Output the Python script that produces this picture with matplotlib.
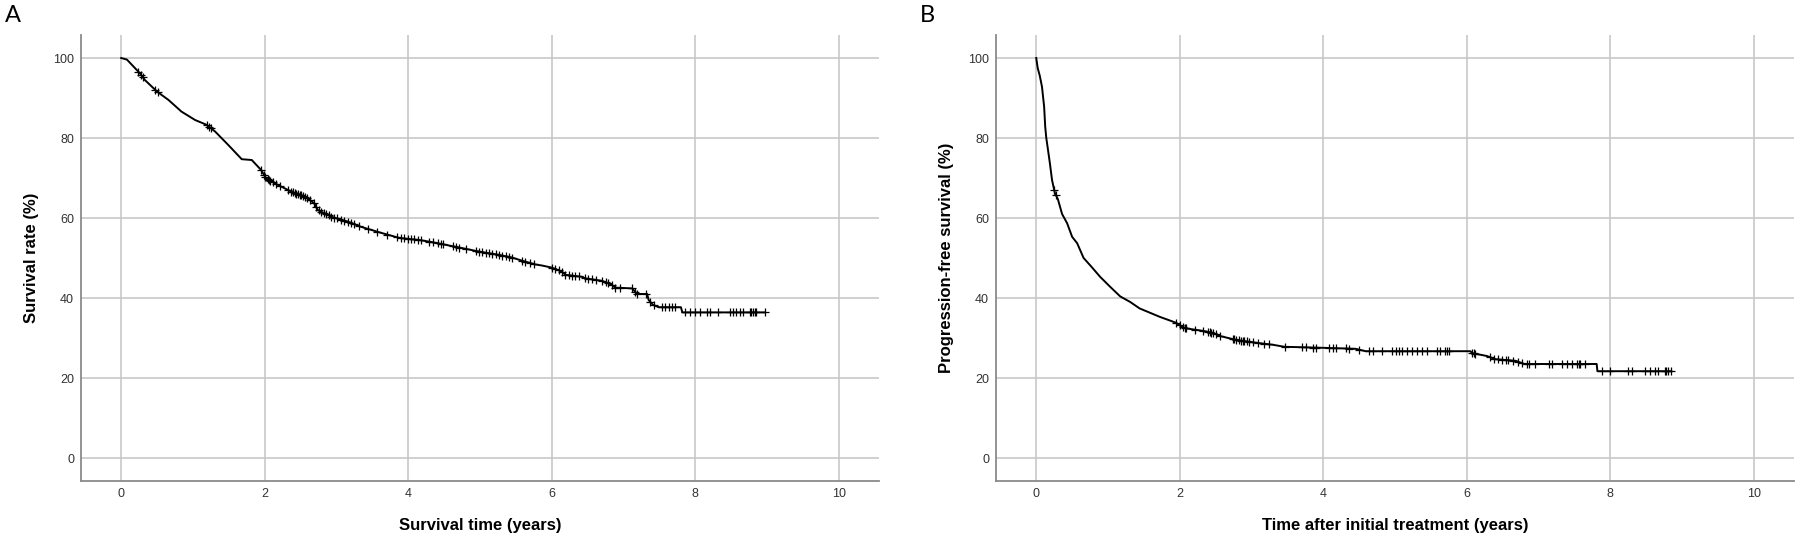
import numpy as np
import matplotlib
matplotlib.use('Agg')
import matplotlib.pyplot as plt

plt.rcParams['font.family'] = ['Liberation Sans', 'DejaVu Sans']

# Panel A: overall survival (Kaplan-Meier)
os_time = [0, 0.08, 0.26, 0.33, 0.50, 0.66, 0.84, 1.03, 1.19, 1.31, 1.49, 1.68,
           1.82, 1.95, 2.02, 2.18, 2.37, 2.56, 2.69, 2.74, 2.93, 3.16, 3.34, 3.62,
           3.88, 4.15, 4.29, 4.52, 4.80, 4.99, 5.26, 5.45, 5.59, 5.77, 5.87, 6.00,
           6.14, 6.19, 6.42, 6.47, 6.70, 6.84, 6.88, 7.12, 7.16, 7.19, 7.33, 7.35,
           7.41, 7.49, 7.80, 7.82, 8.97]
os_surv = [100, 99.6, 96.2, 94.5, 91.6, 89.5, 86.6, 84.5, 83.3, 81.6, 78.3, 74.7,
           74.5, 72.0, 69.9, 68.3, 66.6, 65.3, 63.7, 62.0, 60.3, 59.1, 57.8, 56.3,
           55.0, 54.5, 54.1, 53.3, 52.3, 51.6, 50.8, 50.1, 49.3, 48.4, 48.1, 47.6,
           46.6, 45.8, 45.3, 44.9, 44.3, 43.3, 42.6, 42.4, 41.6, 41.0, 41.0, 39.5,
           38.3, 37.7, 37.7, 36.4, 36.4]
os_censor = [0.24, 0.28, 0.30, 0.47, 0.51, 1.19, 1.22, 1.25, 1.95, 1.99, 2.01, 2.04,
             2.06, 2.08, 2.12, 2.16, 2.21, 2.32, 2.37, 2.39, 2.42, 2.44, 2.46, 2.49,
             2.51, 2.53, 2.56, 2.59, 2.63, 2.69, 2.72, 2.75, 2.79, 2.82, 2.86, 2.89,
             2.93, 2.97, 3.01, 3.06, 3.11, 3.16, 3.20, 3.25, 3.32, 3.44, 3.57, 3.71,
             3.85, 3.90, 3.94, 3.99, 4.04, 4.08, 4.13, 4.18, 4.29, 4.34, 4.41, 4.45,
             4.48, 4.62, 4.66, 4.71, 4.80, 4.94, 4.99, 5.03, 5.08, 5.12, 5.17, 5.22,
             5.26, 5.31, 5.36, 5.40, 5.45, 5.59, 5.63, 5.70, 5.75, 6.00, 6.05, 6.10,
             6.14, 6.19, 6.24, 6.28, 6.33, 6.38, 6.47, 6.51, 6.56, 6.61, 6.70, 6.75,
             6.79, 6.84, 6.88, 6.95, 7.12, 7.16, 7.19, 7.32, 7.37, 7.42, 7.53, 7.58,
             7.63, 7.67, 7.72, 7.86, 7.93, 8.00, 8.06, 8.16, 8.20, 8.32, 8.48, 8.53,
             8.57, 8.62, 8.67, 8.76, 8.78, 8.81, 8.83, 8.85, 8.97]

# Panel B: progression-free survival
pfs_time = [0, 0.02, 0.05, 0.08, 0.11, 0.125, 0.14, 0.16, 0.19, 0.22, 0.26, 0.30, 0.36,
            0.43, 0.50, 0.57, 0.66, 0.77, 0.89, 1.03, 1.17, 1.31, 1.44, 1.72, 1.95,
            2.02, 2.09, 2.32, 2.46, 2.56, 2.79, 3.07, 3.30, 3.46, 3.90, 4.45, 4.59,
            6.05, 6.08, 6.28, 6.40, 6.68, 6.80, 7.81, 7.82, 8.85]
pfs_surv = [100, 97.5, 95.5, 92.8, 87.8, 82.8, 80.0, 77.5, 73.7, 69.5, 66.2, 64.8, 61.0,
            58.7, 55.3, 53.7, 50.0, 47.8, 45.3, 42.8, 40.4, 39.0, 37.4, 35.3, 33.8,
            32.9, 32.4, 31.8, 31.3, 30.5, 29.5, 28.8, 28.3, 27.8, 27.6, 27.3, 26.7,
            26.7, 26.2, 25.5, 24.7, 24.3, 23.5, 23.5, 21.7, 21.7]
pfs_censor = [0.25, 0.27, 1.95, 2.00, 2.04, 2.07, 2.09, 2.21, 2.32, 2.39, 2.42, 2.44,
              2.46, 2.51, 2.56, 2.74, 2.76, 2.79, 2.83, 2.86, 2.88, 2.90, 2.93, 2.97,
              3.02, 3.09, 3.18, 3.25, 3.46, 3.71, 3.76, 3.85, 3.90, 4.08, 4.13, 4.18,
              4.31, 4.36, 4.50, 4.64, 4.69, 4.82, 4.96, 5.01, 5.06, 5.10, 5.17, 5.24,
              5.31, 5.38, 5.45, 5.59, 5.63, 5.70, 5.73, 5.75, 6.07, 6.10, 6.12, 6.33,
              6.38, 6.44, 6.49, 6.54, 6.58, 6.65, 6.72, 6.77, 6.84, 6.86, 6.95, 7.14,
              7.19, 7.32, 7.39, 7.46, 7.53, 7.56, 7.58, 7.65, 7.88, 7.99, 8.25, 8.30,
              8.48, 8.55, 8.62, 8.67, 8.76, 8.78, 8.81, 8.85]

x_ticks = [0, 2, 4, 6, 8, 10]
y_ticks = [0, 20, 40, 60, 80, 100]

fig = plt.figure(figsize=(17.96, 5.36), dpi=100)

panels = [
    (0.0451, os_time, os_surv, os_censor, 'Survival time (years)', 'Survival rate (%)', 'A'),
    (0.5546, pfs_time, pfs_surv, pfs_censor, 'Time after initial treatment (years)',
     'Progression-free survival (%)', 'B'),
]

for left, t, s, cens, xlab, ylab, letter in panels:
    ax = fig.add_axes([left, 0.1026, 0.4443, 0.8321])
    ax.set_xlim(-0.56, 10.56)
    ax.set_ylim(-5.75, 105.75)
    ax.set_xticks(x_ticks)
    ax.set_yticks(y_ticks)
    ax.grid(True, color='#c8c8c8', linewidth=1.2)
    ax.set_axisbelow(True)
    for side in ['top', 'right']:
        ax.spines[side].set_visible(False)
    for side in ['left', 'bottom']:
        ax.spines[side].set_color('#8a8a8a')
        ax.spines[side].set_linewidth(1.3)
    ax.tick_params(length=0, labelsize=9, labelcolor='#333333', pad=5)

    ax.plot(t, s, color='black', linewidth=1.4)
    cy = np.interp(cens, t, s)
    ax.plot(cens, cy, linestyle='none', marker='+', markersize=5.5,
            markeredgewidth=0.9, color='black')

    ax.set_xlabel(xlab, fontsize=12, fontweight='bold', labelpad=13)
    ax.set_ylabel(ylab, fontsize=12, fontweight='bold', labelpad=10)
    fig.text(left - 0.0425, 0.99, letter, fontsize=17, family='Lato', va='top', ha='left')

fig.savefig('out.png', dpi=100)
